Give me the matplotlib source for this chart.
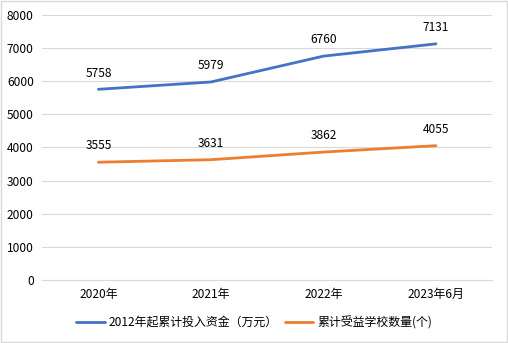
import matplotlib
matplotlib.use("Agg")
import matplotlib.pyplot as plt
from matplotlib.patches import Rectangle

plt.rcParams["font.family"] = ["Noto Sans CJK SC", "DejaVu Sans"]

# Data
categories = ["2020年", "2021年", "2022年", "2023年6月"]
funds = [5758, 5979, 6760, 7131]
schools = [3555, 3631, 3862, 4055]
series_names = ["2012年起累计投入资金（万元）", "累计受益学校数量(个)"]

fig = plt.figure(figsize=(5.08, 3.43), dpi=100)
ax = fig.add_axes([0.083, 0.184, 0.886, 0.772])

x = range(len(categories))
for vals, color, name in [(funds, "#4472C4", series_names[0]),
                          (schools, "#ED7D31", series_names[1])]:
    ax.plot(x, vals, color=color, linewidth=2.0, label=name,
            solid_capstyle="round")
    for xi, v in zip(x, vals):
        ax.annotate(str(v), (xi, v), xytext=(0, 7), textcoords="offset points",
                    ha="center", va="bottom", fontsize=8.6, color="#000000")

ax.set_xlim(-0.5, len(categories) - 0.5)
ax.set_ylim(0, 8000)
ax.set_yticks(range(0, 8001, 1000))
ax.set_xticks(list(x))
ax.set_xticklabels(categories)
ax.tick_params(axis="both", length=0, labelsize=8.6, colors="#000000")
ax.tick_params(axis="y", pad=6)
ax.tick_params(axis="x", pad=6)
ax.grid(axis="y", color="#D9D9D9", linewidth=0.8)
ax.set_axisbelow(True)
for s in ["top", "right", "left"]:
    ax.spines[s].set_visible(False)
ax.spines["bottom"].set_color("#D9D9D9")
ax.spines["bottom"].set_linewidth(0.8)

fig.legend(loc="center", bbox_to_anchor=(0.5, 0.06), ncol=2, frameon=False,
           fontsize=8.6, handlelength=2.4, columnspacing=0.6, handletextpad=0.3)

# outer border
fig.patches.append(Rectangle((0.002, 0.003), 0.996, 0.994, transform=fig.transFigure,
                             fill=False, edgecolor="#D9D9D9", linewidth=1.0))

fig.savefig("out.png", dpi=100)
